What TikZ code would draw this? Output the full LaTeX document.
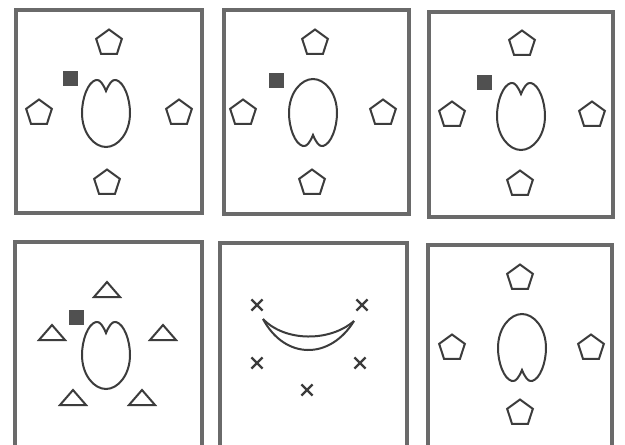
\documentclass[tikz,border=0pt]{standalone}
\usetikzlibrary{shapes.geometric,shapes.misc}
\definecolor{framegray}{HTML}{6A6A6A}
\definecolor{inkgray}{HTML}{3C3C3C}
\definecolor{sqgray}{HTML}{505050}
\tikzset{
  panel/.style={draw=framegray, line width=3.2pt},
  shapeline/.style={draw=inkgray, line width=2pt},
  penta/.style={shapeline, regular polygon, regular polygon sides=5, minimum size=27pt, inner sep=0pt},
  sq/.style={fill=sqgray, minimum size=15pt, inner sep=0pt},
  crossmark/.style={cross out, draw=inkgray, line width=2.2pt, minimum size=9pt, inner sep=0pt},
  vase/.pic={\draw[shapeline] (0,-22) .. controls (-3,-29) and (-6,-34) .. (-10,-33)
     .. controls (-18,-31) and (-24,-15) .. (-24,0)
     .. controls (-24,20) and (-12,34) .. (0,34)
     .. controls (12,34) and (24,20) .. (24,0)
     .. controls (24,-15) and (18,-31) .. (10,-33)
     .. controls (6,-34) and (3,-29) .. (0,-22) -- cycle;},
  tri/.pic={\draw[shapeline, line join=miter] (-13,7) -- (0,-8) -- (13,7) -- cycle;}
}
\begin{document}
\begin{tikzpicture}[x=1pt,y=-1pt]
\useasboundingbox (0,0) rectangle (625,445);
\clip (0,0) rectangle (625,445);
\fill[white] (0,0) rectangle (625,445);
% frames
\draw[panel] (16,10) rectangle (202,213);
\draw[panel] (224,10) rectangle (409,214);
\draw[panel] (429,12) rectangle (613,217);
\draw[panel] (15,242) rectangle (202,450);
\draw[panel] (220,243) rectangle (407,450);
\draw[panel] (428,245) rectangle (612,450);
% panel 1
\node[penta] (p1t) at (109,43) {};
\node[penta] (p1l) at (39,113) {};
\node[penta] (p1r) at (179,113) {};
\node[penta] (p1b) at (107,183) {};
\node[sq] (s1) at (70,78) {};
\pic at (106,113) {vase};
% panel 2
\node[penta] (p2t) at (315,43) {};
\node[penta] (p2l) at (243,113) {};
\node[penta] (p2r) at (383,113) {};
\node[penta] (p2b) at (312,183) {};
\node[sq] (s2) at (276,80) {};
\pic[yscale=-1] at (313,113) {vase};
% panel 3
\node[penta] (p3t) at (522,44) {};
\node[penta] (p3l) at (452,115) {};
\node[penta] (p3r) at (592,115) {};
\node[penta] (p3b) at (520,184) {};
\node[sq] (s3) at (484,82) {};
\pic at (521,116) {vase};
% panel 4
\pic at (107,290) {tri};
\pic at (52,333) {tri};
\pic at (163,333) {tri};
\pic at (73,398) {tri};
\pic at (142,398) {tri};
\node[sq] (s4) at (76,317) {};
\pic at (106,355) {vase};
% panel 5
\node[crossmark] (x1) at (257,305) {};
\node[crossmark] (x2) at (362,305) {};
\node[crossmark] (x3) at (257,363) {};
\node[crossmark] (x4) at (360,363) {};
\node[crossmark] (x5) at (307,390) {};
\draw[shapeline] (263,319) .. controls (285,342) and (330,342) .. (354,321);
\draw[shapeline] (263,319) .. controls (285,360) and (330,360) .. (354,321);
% panel 6
\node[penta] (p6t) at (520,278) {};
\node[penta] (p6l) at (452,348) {};
\node[penta] (p6r) at (591,348) {};
\node[penta] (p6b) at (520,413) {};
\pic[yscale=-1] at (522,348) {vase};
\end{tikzpicture}
\end{document}
